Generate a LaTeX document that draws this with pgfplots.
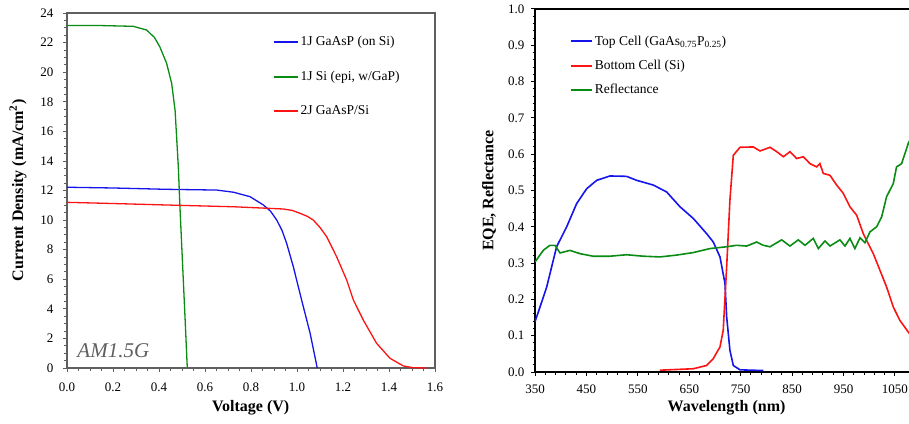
\documentclass[border=0pt]{standalone}
\usepackage{pgfplots}
\pgfplotsset{compat=1.18}
\usepackage{fontspec}
\setmainfont{Liberation Serif}
\definecolor{cblue}{RGB}{20,20,235}
\definecolor{cgreen}{RGB}{10,140,20}
\definecolor{cred}{RGB}{250,20,20}
\definecolor{axgray}{RGB}{95,95,95}
\pgfplotsset{
  common/.style={
    scale only axis,
    /pgf/number format/assume math mode=true,
    /pgf/number format/set thousands separator={},
    tick align=outside,
    xtick pos=bottom, ytick pos=left,
    major tick length=4pt, minor tick length=2.5pt,
    tick label style={font=\fontsize{13}{13}\selectfont},
    legend cell align=left,
    legend style={draw=none, fill=none, font=\fontsize{13.5}{14}\selectfont},
    clip=true,
  }
}
\begin{document}
\begin{tikzpicture}[x=1pt,y=1pt]
% ---------- left: J-V ----------
\begin{axis}[common,
  at={(67pt,55pt)}, anchor=south west,
  width=368pt, height=355pt,
  xmin=0, xmax=1.6, ymin=0, ymax=24,
  xtick={0,0.2,...,1.6}, ytick={0,2,...,24},
  minor x tick num=3, minor y tick num=3,
  xticklabel style={yshift=-7pt, /pgf/number format/.cd, fixed, fixed zerofill, precision=1},
  yticklabel style={xshift=-6pt},
  axis line style={axgray, line width=1.1pt},
  tick style={axgray, line width=0.8pt},
  xlabel={Voltage (V)}, ylabel={Current Density (mA/cm\textsuperscript{2})},
  every axis x label/.style={at={(axis description cs:0.499,-0.113)}, anchor=center, font=\fontsize{16}{16}\selectfont\bfseries},
  every axis y label/.style={at={(axis description cs:-0.133,0.5)}, rotate=90, anchor=center, font=\fontsize{16}{16}\selectfont\bfseries},
  legend style={at={(axis description cs:0.55,0.966)}, anchor=north west, row sep=6pt, nodes={inner ysep=9pt}},
  legend image code/.code={\draw[#1, line width=2pt] plot coordinates {(0pt,0pt) (12pt,0pt) (24pt,0pt)};},
]
\addplot[cblue, line width=1.3pt] coordinates {
(0,12.22) (0.2,12.17) (0.433,12.08) (0.651,12.03) (0.725,11.88) (0.796,11.58) (0.854,11.02)
(0.885,10.6) (0.912,10.0) (0.935,9.3) (0.955,8.43) (0.984,6.85) (1.020,4.6) (1.057,2.35) (1.088,0)};
\addlegendentry{1J GaAsP (on Si)}
\addplot[cgreen, line width=1.3pt] coordinates {
(0,23.15) (0.15,23.15) (0.288,23.1) (0.346,22.85) (0.38,22.35) (0.404,21.7) (0.433,20.6) (0.455,19.25)
(0.470,17.4) (0.484,13.6) (0.491,10.9) (0.503,6.85) (0.513,3.47) (0.523,0)};
\addlegendentry{1J Si (epi, w/GaP)}
\addplot[cred, line width=1.3pt] coordinates {
(0,11.2) (0.2,11.12) (0.433,11.02) (0.725,10.9) (0.940,10.75) (0.98,10.65) (1.013,10.46) (1.045,10.25) (1.071,10.0)
(1.10,9.5) (1.129,8.88) (1.172,7.53) (1.216,5.95) (1.245,4.6) (1.288,3.25) (1.346,1.67) (1.404,0.66)
(1.462,0.14) (1.505,0.02) (1.564,0)};
\addlegendentry{2J GaAsP/Si}
\node[anchor=base west, font=\fontsize{21}{21}\selectfont\itshape, text=axgray] at (axis cs:0.03,0.68) {AM1.5G};
\end{axis}
% ---------- right: EQE ----------
\begin{axis}[common,
  at={(535pt,51pt)}, anchor=south west,
  width=385.7pt, height=363pt,
  xmin=350, xmax=1100, ymin=0, ymax=1,
  xtick={350,450,...,1050}, ytick={0,0.1,...,1.0},
  minor x tick num=4, minor y tick num=4,
  xticklabel style={yshift=-5pt},
  yticklabel style={xshift=-3pt, /pgf/number format/.cd, fixed, fixed zerofill, precision=1},
  axis line style={black, line width=1.5pt},
  tick style={black, line width=1pt},
  xlabel={Wavelength (nm)}, ylabel={EQE, Reflectance},
  every axis x label/.style={at={(axis description cs:0.4966,-0.099)}, anchor=center, font=\fontsize{16}{16}\selectfont\bfseries},
  every axis y label/.style={at={(axis description cs:-0.119,0.5)}, rotate=90, anchor=center, font=\fontsize{16}{16}\selectfont\bfseries},
  legend style={at={(axis description cs:0.082,0.938)}, anchor=north west, row sep=9.5pt},
  legend image code/.code={\draw[#1, line width=2pt] plot coordinates {(0pt,0pt) (10.5pt,0pt) (21pt,0pt)};},
]
\addplot[cblue, line width=1.6pt] coordinates {
(350,0.138) (372.7,0.234) (392,0.345) (411.6,0.40) (431,0.464) (450.5,0.505) (470,0.528)
(495.8,0.540) (528,0.539) (547.7,0.528) (580,0.515) (606,0.496) (632,0.455) (657.8,0.423)
(683.8,0.381) (696.7,0.358) (709.7,0.317) (719.4,0.244) (722.7,0.152) (729,0.06) (735.6,0.018)
(748.6,0.006) (794,0.004)};
\addlegendentry{Top Cell (GaAs\textsubscript{0.75}P\textsubscript{0.25})}
\addplot[cred, line width=1.6pt] coordinates {
(593,0.005) (657.8,0.009) (683.8,0.018) (696.7,0.037) (709.7,0.069) (716,0.115) (722.7,0.29)
(729,0.473) (735.6,0.597) (748.6,0.619) (774.5,0.620) (787.5,0.609) (807,0.619) (820,0.607)
(833,0.593) (845.8,0.607) (858.8,0.588) (871.7,0.593) (884.7,0.574) (897.6,0.565) (904,0.574)
(910.6,0.547) (923.5,0.542) (936.5,0.515) (949.5,0.492) (962.4,0.455) (975.4,0.432)
(988.4,0.381) (1007.8,0.326) (1020.8,0.280) (1033.7,0.234) (1046.7,0.179) (1059.6,0.142)
(1075.9,0.110) (1090,0.085)};
\addlegendentry{Bottom Cell (Si)}
\addplot[cgreen, line width=1.6pt] coordinates {
(350,0.303) (366,0.335) (379,0.349) (389,0.349) (398.6,0.328) (418,0.335) (437.5,0.326)
(463,0.319) (495.8,0.319) (528,0.323) (560.6,0.319) (593,0.317) (625,0.322) (657.8,0.329)
(690,0.340) (722.7,0.345) (742,0.349) (761.5,0.347) (781,0.358) (794,0.349) (807,0.345)
(829.6,0.364) (845.8,0.347) (862,0.364) (875,0.349) (891,0.368) (901,0.340) (913.8,0.361)
(923.5,0.347) (943,0.364) (952.7,0.347) (962.4,0.368) (972,0.340) (982,0.370) (991.6,0.356)
(1001.3,0.386) (1014.3,0.40) (1024,0.427) (1033.7,0.483) (1046.7,0.519) (1053,0.565)
(1062.9,0.574) (1075.9,0.630) (1090,0.67)};
\addlegendentry{Reflectance}
\end{axis}
\pgfresetboundingbox
\path (0pt,0pt) rectangle (909pt,423pt);
\end{tikzpicture}
\end{document}
